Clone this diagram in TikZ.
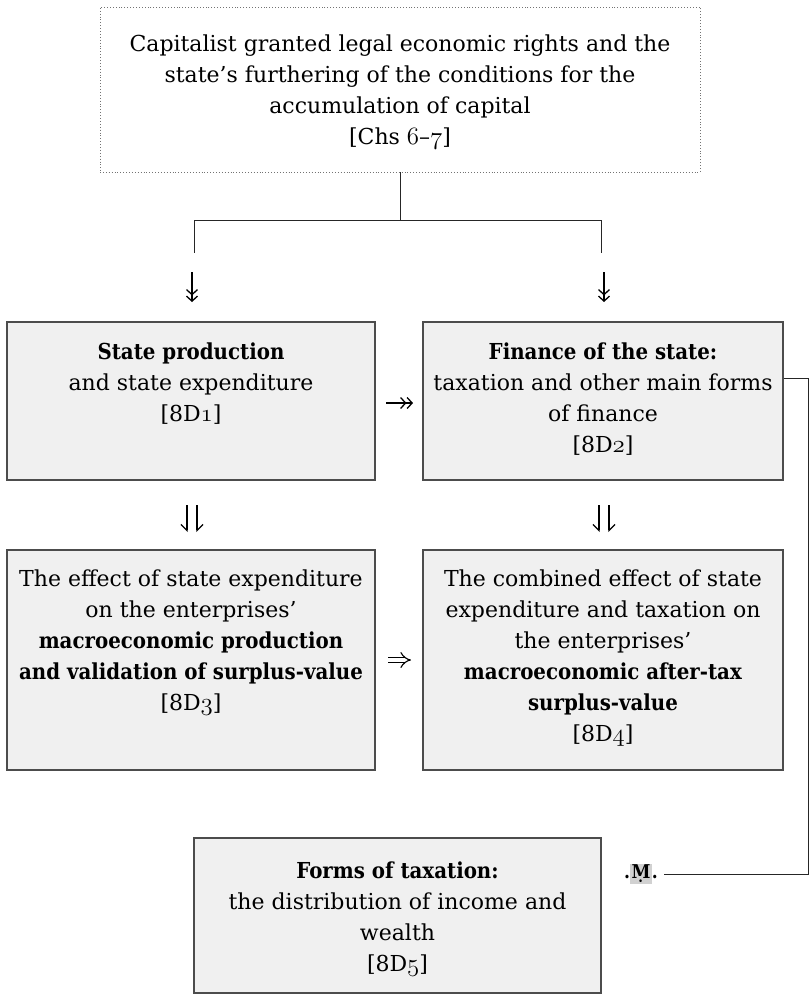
\documentclass[tikz,border=0pt]{standalone}
\usepackage{graphicx}
\usepackage{fontspec}
\usetikzlibrary{arrows.meta}
\setmainfont{DejaVu Serif}[BoldFeatures={FakeStretch=0.9}]
\newcommand{\osn}[1]{{\fontsize{28}{31}\usefont{OML}{cmm}{m}{it}#1}}
\begin{document}
\begin{tikzpicture}[x=1pt,y=-1pt,
  box/.style={draw=black!70, line width=1.4pt, fill=black!6, inner sep=0pt},
  topbox/.style={draw=black!55, line width=0.9pt, dotted, inner sep=0pt},
  txt/.style={align=center, inner sep=0pt, font=\fontsize{22}{31}\selectfont, anchor=north},
  conn/.style={draw=black!85, line width=1pt},
  twohead/.style={line width=1.3pt, -{Straight Barb[length=5pt,width=11pt,line width=1.3pt] Straight Barb[length=5pt,width=11pt,line width=1.3pt]}},
  harpL/.style={line width=1.3pt, -{Straight Barb[right,length=6pt,width=12pt,line width=1.3pt]}},
  harpR/.style={line width=1.3pt, -{Straight Barb[left,length=6pt,width=12pt,line width=1.3pt]}},
  implies/.style={line width=1.1pt, double, double distance=4.5pt, -{Implies[length=6pt]}}]
\useasboundingbox (0,0) rectangle (809,996);
% boxes
\node[topbox, minimum width=600, minimum height=165] (top) at (400,89.5) {};
\node[box, minimum width=368, minimum height=158] (d1) at (191,401) {};
\node[box, minimum width=360, minimum height=158] (d2) at (603,401) {};
\node[box, minimum width=368, minimum height=220] (d3) at (191,660) {};
\node[box, minimum width=360, minimum height=220] (d4) at (603,660) {};
\node[box, minimum width=407, minimum height=155] (d5) at (397.5,915.5) {};
% texts
\node[txt] (ttop) at (400,35) {Capitalist granted legal economic rights and the\\state’s furthering of the conditions for the\\accumulation of capital\\{}[Chs \osn{6}–\osn{7}]};
\node[txt] (t1) at (191,343) {\textbf{State production}\\and state expenditure\\{}[8D\osn{1}]};
\node[txt] (t2) at (603,343) {\textbf{Finance of the state:}\\taxation and other main forms\\of finance\\{}[8D\osn{2}]};
\node[txt] (t3) at (191,570) {The effect of state expenditure\\on the enterprises’\\\textbf{macroeconomic production}\\\textbf{and validation of surplus-value}\\{}[8D\osn{3}]};
\node[txt] (t4) at (603,570) {The combined effect of state\\expenditure and taxation on\\the enterprises’\\\textbf{macroeconomic after-tax}\\\textbf{surplus-value}\\{}[8D\osn{4}]};
\node[txt] (t5) at (397.5,862) {\textbf{Forms of taxation:}\\the distribution of income and\\wealth\\{}[8D\osn{5}]};
% free-standing arrow marks
\coordinate (a1s) at (192,272); \coordinate (a1e) at (192,302);
\coordinate (a2s) at (604,272); \coordinate (a2e) at (604,302);
\coordinate (a3s) at (386,403); \coordinate (a3e) at (413,403);
\coordinate (a4ls) at (187,505); \coordinate (a4le) at (187,532);
\coordinate (a4rs) at (197,505); \coordinate (a4re) at (197,532);
\coordinate (a5ls) at (599,505); \coordinate (a5le) at (599,532);
\coordinate (a5rs) at (609,505); \coordinate (a5re) at (609,532);
\coordinate (a6s) at (388,660); \coordinate (a6e) at (411,660);
\draw[twohead] (a1s) -- (a1e);
\draw[twohead] (a2s) -- (a2e);
\draw[twohead] (a3s) -- (a3e);
\draw[harpL] (a4ls) -- (a4le);
\draw[harpR] (a4rs) -- (a4re);
\draw[harpL] (a5ls) -- (a5le);
\draw[harpR] (a5rs) -- (a5re);
\draw[implies] (a6s) -- (a6e);
% M marker
\node[inner sep=0pt, font=\fontsize{19}{19}\selectfont\bfseries] (m) at (641,874) {.{\fboxsep=1.5pt\colorbox{black!18}{\d{M}}}.};
% connectors
\coordinate (fork) at (400,220);
\coordinate (lend) at (194,253);
\coordinate (rend) at (601,253);
\coordinate (corner) at (808,378);
\draw[conn] (top.south) -- (fork) -| (lend);
\draw[conn] (fork) -| (rend);
\draw[conn] ([yshift=23pt]d2.east) -- (corner) |- ([xshift=6pt]m.east);
\end{tikzpicture}
\end{document}
